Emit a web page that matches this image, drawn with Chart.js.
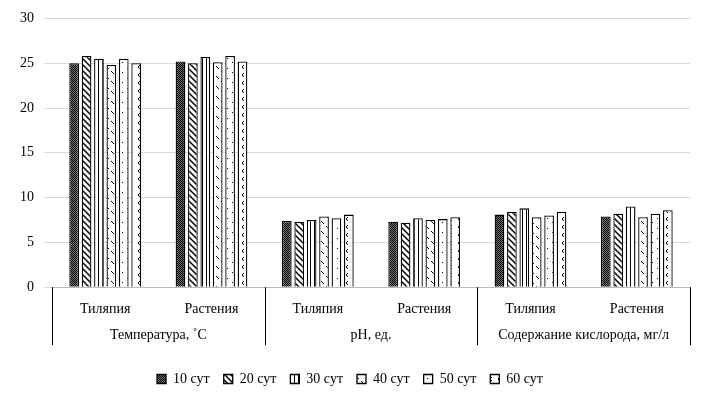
<!DOCTYPE html>
<html><head><meta charset="utf-8">
<script src="https://cdn.jsdelivr.net/npm/chart.js@4"></script>
<style>html,body{margin:0;background:#fff}#wrap{width:702px;height:402px}</style>
</head><body><div id="wrap"><canvas id="c"></canvas></div>
<script>
const groups = ['Температура, ˚C', 'pH, ед.', 'Содержание кислорода, мг/л'];
const subLabels = ['Тиляпия', 'Растения', 'Тиляпия', 'Растения', 'Тиляпия', 'Растения'];
const seriesNames = ['10 сут', '20 сут', '30 сут', '40 сут', '50 сут', '60 сут'];
const day10 = [25.0, 25.2, 7.4, 7.3, 8.1, 7.9];
const day20 = [25.8, 25.0, 7.3, 7.2, 8.4, 8.2];
const day30 = [25.5, 25.7, 7.5, 7.7, 8.8, 9.0];
const day40 = [24.8, 25.1, 7.9, 7.5, 7.8, 7.8];
const day50 = [25.5, 25.8, 7.7, 7.6, 8.0, 8.2];
const day60 = [25.0, 25.2, 8.1, 7.8, 8.4, 8.6];
const yTicks = [0, 5, 10, 15, 20, 25, 30];

function makePattern(draw, size) {
    const c = document.createElement('canvas');
    c.width = c.height = size;
    const g = c.getContext('2d');
    g.fillStyle = '#fff';
    g.fillRect(0, 0, size, size);
    g.strokeStyle = '#000';
    g.fillStyle = '#000';
    g.lineWidth = 1;
    draw(g, size);
    return g.createPattern(c, 'repeat');
}

const patterns = [
    makePattern((g) => { g.fillStyle = '#777'; g.fillRect(0, 0, 4, 4); for (let i = 0; i < 4; i++) for (let j = 0; j < 4; j++) if ((i + j) % 2 === 0) { g.fillStyle = '#000'; g.fillRect(i, j, 1, 1); } }, 4),
    makePattern((g) => { g.lineWidth = 1.5; g.beginPath(); g.moveTo(0, 0); g.lineTo(6, 6); g.moveTo(-3, 3); g.lineTo(3, 9); g.moveTo(3, -3); g.lineTo(9, 3); g.stroke(); }, 6),
    makePattern((g) => { g.fillRect(2, 0, 1, 4); }, 4),
    makePattern((g) => { g.beginPath(); g.moveTo(1, 1); g.lineTo(4, 4); g.moveTo(6, 6); g.lineTo(9, 9); g.stroke(); }, 10),
    makePattern((g) => { g.fillRect(2, 2, 1, 1); g.fillRect(7, 8, 1, 1); }, 10),
    makePattern((g) => { g.beginPath(); g.moveTo(4, 1); g.lineTo(2, 3); g.lineTo(4, 5); g.stroke(); }, 8),
];

const seriesData = [day10, day20, day30, day40, day50, day60];
const font = { family: 'Liberation Serif', size: 14 };

const groupPlugin = {
    id: 'groups',
    afterDraw(chart) {
        const ctx = chart.ctx;
        const x = chart.scales.x;
        const bottom = chart.chartArea.bottom;
        const step = (x.right - x.left) / subLabels.length;
        ctx.save();
        ctx.strokeStyle = '#000';
        ctx.lineWidth = 1;
        for (let i = 0; i <= groups.length; i++) {
            const px = Math.round(x.left + i * step * 2) + 0.5;
            ctx.beginPath();
            ctx.moveTo(px, bottom);
            ctx.lineTo(px, bottom + 58);
            ctx.stroke();
        }
        ctx.fillStyle = '#000';
        ctx.font = '14px "Liberation Serif"';
        ctx.textAlign = 'center';
        ctx.textBaseline = 'middle';
        groups.forEach((name, i) => ctx.fillText(name, x.left + (i * 2 + 1) * step, bottom + 48));
        ctx.restore();
    },
};

new Chart(document.getElementById('c'), {
    type: 'bar',
    data: {
        labels: subLabels,
        datasets: seriesNames.map((name, i) => ({
            label: name,
            data: seriesData[i],
            backgroundColor: patterns[i],
            borderColor: '#000',
            borderWidth: 1.3,
        })),
    },
    plugins: [groupPlugin],
    options: {
        responsive: true,
        maintainAspectRatio: false,
        animation: false,
        layout: { padding: { left: 10, right: 12, top: 12, bottom: 6 } },
        datasets: { bar: { categoryPercentage: 0.7, barPercentage: 0.78 } },
        scales: {
            x: {
                grid: { display: false },
                border: { color: '#bbb' },
                ticks: { color: '#000', font, padding: 6 },
                afterFit: (s) => { s.height += 34; },
            },
            y: {
                min: 0, max: 30,
                afterBuildTicks: (s) => { s.ticks = yTicks.map((v) => ({ value: v })); },
                grid: { color: '#d9d9d9' },
                border: { display: false },
                ticks: { color: '#000', font, padding: 10 },
            },
        },
        plugins: {
            tooltip: { enabled: false },
            legend: {
                position: 'bottom',
                labels: { color: '#000', font, boxWidth: 9, boxHeight: 9, padding: 14 },
            },
        },
    },
});
</script></body></html>
